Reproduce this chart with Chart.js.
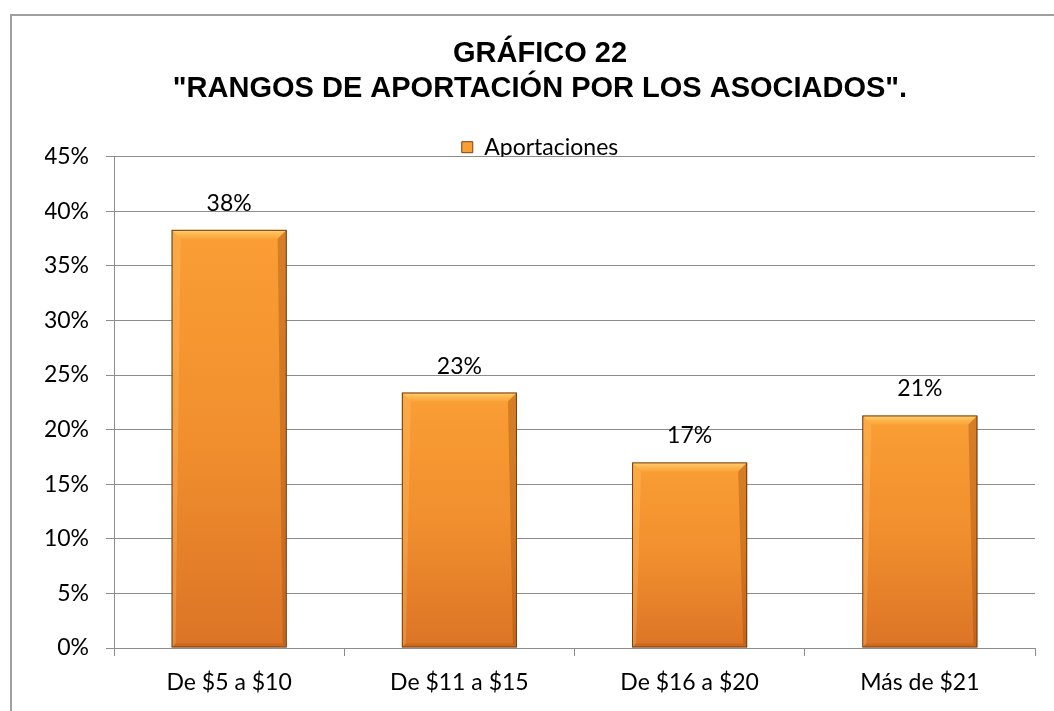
<!DOCTYPE html>
<html>
<head>
<meta charset="utf-8">
<script src="https://cdn.jsdelivr.net/npm/chart.js@4/dist/chart.umd.min.js"></script>
<style>
    html, body { margin: 0; padding: 0; background: #fff; overflow: hidden; }
    #wrap { position: relative; width: 1054px; height: 711px; }
    #marco { position: absolute; left: 10px; top: 14px; width: 1100px; height: 800px;
             border-left: 2px solid #a0a0a0; border-top: 2px solid #a0a0a0; }
    #grafico { position: absolute; left: 0; top: 0; }
</style>
</head>
<body>
<div id="wrap">
    <div id="marco"></div>
    <canvas id="grafico" width="1054" height="711"></canvas>
</div>
<script>
// datos del gráfico
const categorias = ['De $5 a $10', 'De $11 a $15', 'De $16 a $20', 'Más de $21'];
const aportaciones = [38.3, 23.4, 17.0, 21.3];
const ticksY = [0, 5, 10, 15, 20, 25, 30, 35, 40, 45];
const tituloGrafico = ['GRÁFICO 22', '"RANGOS DE APORTACIÓN POR LOS ASOCIADOS".'];
const nombreSerie = 'Aportaciones';

const fuente = "Lato, 'Open Sans', sans-serif";
const gris = '#8c8c8c';

// degradado naranja por barra
function colorBarra(c) {
    if (c.type !== 'data' || !c.chart.chartArea) return '#f39130';
    const y = c.chart.scales.y;
    const arriba = y.getPixelForValue(c.raw);
    const abajo = y.getPixelForValue(0);
    const g = c.chart.ctx.createLinearGradient(0, arriba, 0, abajo);
    g.addColorStop(0, '#fa9e35');
    g.addColorStop(0.5, '#f18f2e');
    g.addColorStop(1, '#dc7426');
    return g;
}

// la leyenda de Excel se monta sobre el área del gráfico
const ajusteLeyenda = {
    id: 'ajusteLeyenda',
    beforeLayout(chart) {
        const lg = chart.legend;
        if (lg && !lg.ajustada) {
            const fit = lg.fit;
            lg.fit = function () { fit.call(this); this.height -= 12; };
            lg.ajustada = true;
        }
    }
};

// bisel y etiquetas de porcentaje
const biselEtiquetas = {
    id: 'biselEtiquetas',
    afterDatasetsDraw(chart) {
        const ctx = chart.ctx;
        const meta = chart.getDatasetMeta(0);
        meta.data.forEach((bar, i) => {
            const izq = bar.x - bar.width / 2, der = bar.x + bar.width / 2;
            const sup = bar.y, inf = bar.base;
            const b = 9, s = 4;
            ctx.save();
            // bisel superior
            let g = ctx.createLinearGradient(0, sup, 0, sup + b);
            g.addColorStop(0, 'rgba(255,214,120,0.95)');
            g.addColorStop(1, 'rgba(252,170,60,0.6)');
            ctx.fillStyle = g;
            ctx.beginPath();
            ctx.moveTo(izq, sup); ctx.lineTo(der, sup);
            ctx.lineTo(der - b, sup + b); ctx.lineTo(izq + b, sup + b);
            ctx.closePath(); ctx.fill();
            // lado izquierdo claro
            ctx.fillStyle = 'rgba(255,200,110,0.3)';
            ctx.beginPath();
            ctx.moveTo(izq, sup); ctx.lineTo(izq + b, sup + b);
            ctx.lineTo(izq + s, inf - s); ctx.lineTo(izq, inf);
            ctx.closePath(); ctx.fill();
            // lado derecho y base oscuros
            ctx.fillStyle = 'rgba(150,70,10,0.35)';
            ctx.beginPath();
            ctx.moveTo(der, sup); ctx.lineTo(der, inf);
            ctx.lineTo(der - s, inf - s); ctx.lineTo(der - b, sup + b);
            ctx.closePath(); ctx.fill();
            ctx.fillStyle = 'rgba(150,70,10,0.25)';
            ctx.beginPath();
            ctx.moveTo(izq, inf); ctx.lineTo(der, inf);
            ctx.lineTo(der - s, inf - s); ctx.lineTo(izq + s, inf - s);
            ctx.closePath(); ctx.fill();
            ctx.strokeStyle = '#7a3f0e';
            ctx.lineWidth = 1;
            ctx.strokeRect(izq + 0.5, sup + 0.5, bar.width - 1, inf - sup - 1);
            // etiqueta
            ctx.fillStyle = '#000';
            ctx.font = '23px ' + fuente;
            ctx.textAlign = 'center';
            ctx.textBaseline = 'alphabetic';
            ctx.fillText(Math.round(aportaciones[i]) + '%', bar.x, sup - 19);
            ctx.restore();
        });
    }
};

const grafico = new Chart(document.getElementById('grafico').getContext('2d'), {
    type: 'bar',
    data: {
        labels: categorias,
        datasets: [{
            label: nombreSerie,
            data: aportaciones,
            backgroundColor: colorBarra,
            borderColor: '#7a3f0e',
            borderWidth: 1,
            barPercentage: 0.5,
            categoryPercentage: 1
        }]
    },
    options: {
        responsive: false,
        animation: false,
        layout: { padding: { left: 45, right: 19, top: 0, bottom: 0 } },
        plugins: {
            title: {
                display: true,
                text: tituloGrafico,
                color: '#000',
                font: { family: "'Liberation Sans', Arial, sans-serif", size: 29, weight: 'bold', lineHeight: 1.207 },
                padding: { top: 36.5, bottom: 29.2 }
            },
            legend: {
                display: true,
                position: 'top',
                labels: {
                    color: '#000',
                    font: { family: fuente, size: 23 },
                    boxWidth: 11,
                    boxHeight: 11,
                    padding: 0
                }
            },
            tooltip: { enabled: false }
        },
        scales: {
            x: {
                afterFit(scale) { scale.height = 63; },
                grid: { display: true, offset: true, drawOnChartArea: false, color: gris, tickLength: 8 },
                border: { display: true, color: gris },
                ticks: { color: '#000', font: { family: fuente, size: 23 }, padding: 13 }
            },
            y: {
                min: 0,
                max: 45,
                afterFit(scale) { scale.width = 69; },
                afterBuildTicks(scale) { scale.ticks = ticksY.map(v => ({ value: v })); },
                grid: { color: gris, tickLength: 8 },
                border: { display: true, color: gris },
                ticks: {
                    color: '#000',
                    font: { family: fuente, size: 23 },
                    padding: 17,
                    callback: v => v + '%'
                }
            }
        }
    },
    plugins: [ajusteLeyenda, biselEtiquetas]
});
</script>
</body>
</html>
